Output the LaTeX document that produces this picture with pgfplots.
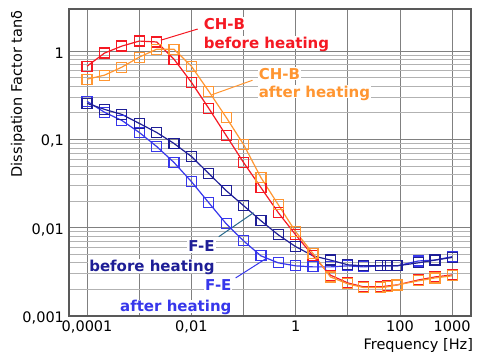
\documentclass[border=0pt]{standalone}
\usepackage{pgfplots}
\pgfplotsset{compat=1.18}
\usepackage{fontspec}
\setmainfont{DejaVu Sans}
\usetikzlibrary{calc}
\definecolor{cred}{RGB}{245,25,35}
\definecolor{corange}{RGB}{255,150,50}
\definecolor{cnavy}{RGB}{30,30,150}
\definecolor{cblue}{RGB}{55,55,235}
\definecolor{cteal}{RGB}{40,105,140}
\newcommand{\nd}[1]{\raisebox{0pt}[\height][0pt]{#1}}
\begin{document}
\fontsize{14.5}{17}\selectfont
\begin{tikzpicture}
\begin{axis}[
  scale only axis, width=402pt, height=307pt,
  xmode=log, ymode=log,
  xmin=4.5e-5, xmax=2300, ymin=0.001, ymax=3,
  xtick={1e-4,1e-3,1e-2,1e-1,1,10,100,1000},
  xticklabels={{0,0001},{},{0,01},{},{1},{},{100},{1000}},
  minor xtick={},
  ytick={0.001,0.01,0.1,1},
  yticklabels={{0,001},{0,01},{0,1},{1}},
  xmajorgrids=true, ymajorgrids=true, yminorgrids=true,
  major grid style={black!50, line width=0.8pt},
  minor grid style={black!30, line width=0.8pt},
  major tick length=0pt, minor tick length=0pt,
  axis line style={black!65, line width=1.5pt},
  /pgf/number format/assume math mode=true,
  tick label style={font=\fontsize{14.5}{17}\selectfont},
  yticklabel style={yshift=-2pt},
  every axis plot/.append style={line width=1.2pt, mark=square, mark size=5pt, mark options={solid, line width=1.2pt}},
]
\addplot[cblue] coordinates {(1e-4,0.270)(2.154e-4,0.203)(4.642e-4,0.164)(1e-3,0.120)(2.154e-3,0.0832)(4.642e-3,0.0548)(0.01,0.0333)(0.02154,0.0192)(0.04642,0.0111)(0.1,0.0071)(0.2154,0.0048)(0.4642,0.0040)(1,0.0037)(2.154,0.0036)(4.642,0.0036)(10,0.0037)(20,0.0036)(42,0.0037)(58,0.0037)(88,0.0037)(225,0.0042)(470,0.0043)(1000,0.0047)};
\addplot[cnavy] coordinates {(1e-4,0.256)(2.154e-4,0.219)(4.642e-4,0.192)(1e-3,0.152)(2.154e-3,0.120)(4.642e-3,0.090)(0.01,0.0641)(0.02154,0.0411)(0.04642,0.0263)(0.1,0.0178)(0.2154,0.0120)(0.4642,0.0083)(1,0.0061)(2.154,0.0048)(4.642,0.0043)(10,0.0038)(20,0.0037)(42,0.0037)(58,0.0037)(88,0.0037)(225,0.0040)(470,0.0043)(1000,0.0046)};
\addplot[cred] coordinates {(1e-4,0.675)(2.154e-4,0.95)(4.642e-4,1.14)(1e-3,1.30)(2.154e-3,1.27)(4.642e-3,0.81)(0.01,0.444)(0.02154,0.225)(0.04642,0.111)(0.1,0.0548)(0.2154,0.0285)(0.4642,0.0148)(1,0.0083)(2.154,0.0048)(4.642,0.0029)(10,0.00237)(20,0.00214)(42,0.00214)(58,0.00219)(88,0.00225)(225,0.00256)(470,0.00277)(1000,0.00292)};
\addplot[corange] coordinates {(1e-4,0.481)(2.154e-4,0.534)(4.642e-4,0.658)(1e-3,0.855)(2.154e-3,1.05)(4.642e-3,1.05)(0.01,0.675)(0.02154,0.351)(0.04642,0.178)(0.1,0.0877)(0.2154,0.037)(0.4642,0.0182)(1,0.0090)(2.154,0.0051)(4.642,0.00277)(10,0.00231)(20,0.0021)(42,0.0021)(58,0.00214)(88,0.00225)(225,0.0025)(470,0.0027)(1000,0.00285)};
% leader lines
\draw[cred, line width=1pt] (axis cs:0.0026,1.33) -- (axis cs:0.01324,1.78);
\draw[corange, line width=1pt] (axis cs:0.0245,0.32) -- (axis cs:0.149,0.468);
\draw[cteal, line width=1pt] (axis cs:0.0334,0.0079) -- (axis cs:0.156,0.0148);
\draw[cblue, line width=1pt] (axis cs:0.0706,0.0027) -- (axis cs:0.265,0.00444);
% labels
\tikzset{lab/.style={font=\bfseries\fontsize{15}{18}\selectfont, fill=white, inner xsep=1pt, inner ysep=1pt}}
\node[lab, text=cred, anchor=base west] at (axis cs:0.0165,1.778) {\nd{CH-B}};
\node[lab, text=cred, anchor=base west] at (axis cs:0.0165,1.082) {\nd{before heating}};
\node[lab, text=corange, anchor=base west] at (axis cs:0.186,0.481) {\nd{CH-B}};
\node[lab, text=corange, anchor=base west] at (axis cs:0.186,0.300) {\nd{after heating}};
\node[lab, text=cnavy, anchor=base east] at (axis cs:0.0293,0.00533) {\nd{F-E}};
\node[lab, text=cnavy, anchor=base east] at (axis cs:0.0293,0.00316) {\nd{before heating}};
\node[lab, text=cblue, anchor=base east] at (axis cs:0.0619,0.00192) {\nd{F-E}};
\node[lab, text=cblue, anchor=base east] at (axis cs:0.0619,0.00111) {\nd{after heating}};
\end{axis}
\node[anchor=base east] at ($(current axis.south east)+(7pt,-34pt)$) {Frequency [Hz]};
\node[rotate=90] at ($(current axis.north west)+(-51pt,-85pt)$) {Dissipation Factor tanδ};
\pgfresetboundingbox
\path[use as bounding box] ($(current axis.south west)+(-69pt,-40pt)$) rectangle ($(current axis.north east)+(9pt,9pt)$);
\end{tikzpicture}
\end{document}
